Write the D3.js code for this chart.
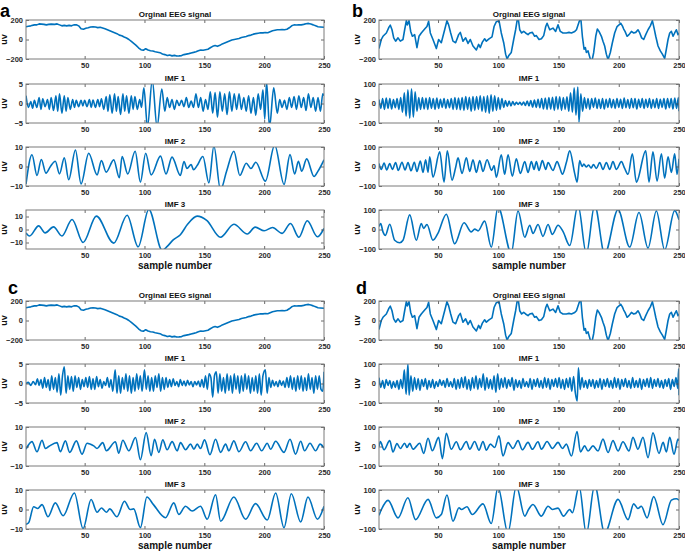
<!DOCTYPE html>
<html><head><meta charset="utf-8">
<script src="https://cdn.jsdelivr.net/npm/d3@7"></script>
<style>
html,body{margin:0;padding:0;background:#fff;}
svg{display:block;font-family:"Liberation Sans",Arial,Helvetica,sans-serif;}
</style></head><body>
<svg id="chart" width="685" height="554"></svg>
<script>
// ---------------- DATA (sample number, uV) ----------------
const sampleDomain = [1, 250];
const xTickValues = [50, 100, 150, 200, 250];
const subplotTitles = ["Orginal EEG signal", "IMF 1", "IMF 2", "IMF 3"];
const panelLetters = ["a", "b", "c", "d"];
const yAxisLabel = "uv";
const xAxisLabel = "sample number";

const yLimitsA = [200, 5, 10, 15];
const yLimitsB = [200, 100, 100, 100];
const yLimitsC = [200, 5, 10, 10];
const yLimitsD = [200, 100, 100, 100];
const yTicksA = [[-200, 0, 200], [-5, 0, 5], [-10, 0, 10], [-10, 0, 10]];
const yTicksB = [[-200, 0, 200], [-100, 0, 100], [-100, 0, 100], [-100, 0, 100]];
const yTicksC = [[-200, 0, 200], [-5, 0, 5], [-10, 0, 10], [-10, 0, 10]];
const yTicksD = [[-200, 0, 200], [-100, 0, 100], [-100, 0, 100], [-100, 0, 100]];

// original EEG signal shown in panels a and c
const eegAC = [[1,130],[3,135],[5,140],[8,150],[10,150],[12,160],[14,158],[16,155],[18,150],[20,155],[22,158],[25,155],[27,160],[29,150],[31,140],[33,145],[35,140],[37,145],[39,140],[41,150],[43,152],[45,140],[47,110],[49,105],[51,115],[53,120],[55,128],[57,130],[59,128],[61,122],[63,125],[65,118],[67,110],[69,100],[71,90],[73,80],[75,70],[77,60],[79,45],[81,38],[83,25],[85,15],[87,0],[89,-20],[91,-40],[93,-60],[95,-85],[97,-105],[99,-110],[101,-95],[103,-108],[105,-115],[107,-118],[109,-125],[111,-130],[113,-135],[115,-148],[117,-155],[119,-165],[121,-160],[123,-168],[125,-163],[127,-170],[129,-168],[131,-165],[133,-155],[135,-150],[137,-145],[139,-138],[141,-132],[143,-125],[145,-115],[147,-108],[149,-110],[151,-105],[153,-100],[155,-85],[157,-70],[159,-62],[161,-70],[163,-60],[165,-45],[167,-35],[169,-25],[171,-15],[173,-5],[175,0],[177,5],[179,10],[181,20],[183,25],[185,30],[187,40],[189,45],[191,55],[193,60],[195,65],[197,70],[199,68],[201,72],[203,70],[205,80],[207,90],[209,95],[211,100],[213,100],[215,102],[217,100],[219,105],[221,120],[223,140],[225,150],[227,148],[229,152],[231,150],[233,155],[235,162],[237,165],[239,158],[241,150],[243,140],[245,130],[247,128],[250,125]];

// original EEG signal shown in panels b and d
const eegBD = [[1,-93],[2.9,0],[4.3,33],[7.1,67],[9.3,127],[10.4,147],[11.8,100],[13.2,17],[14.8,-17],[16.8,17],[18.7,-17],[20.9,0],[22.3,100],[23.7,193],[24.5,150],[25.9,193],[27.3,83],[28.7,33],[30.6,50],[32.5,-83],[34.2,33],[36.1,67],[38.9,107],[40.8,133],[42.2,187],[43.6,67],[45.8,0],[48.6,-93],[50.5,0],[52.7,-33],[55.5,100],[57.4,193],[58.8,150],[60.5,67],[62.4,-17],[64.6,-33],[67.1,50],[68.5,73],[70.7,-17],[72.9,17],[74.9,-40],[76.8,0],[79,-67],[81.8,-107],[83.7,-50],[85.1,-83],[86.8,-27],[88.7,7],[90.1,-17],[92.3,7],[94.8,27],[96.5,133],[98.4,183],[100.6,193],[102.5,67],[104.5,-33],[106.1,-150],[107.3,-200],[108.6,-167],[110.8,-133],[112.8,0],[114.4,100],[115.6,193],[116.4,233],[117.8,100],[119.4,67],[121.1,83],[122.7,67],[124.7,50],[126.1,67],[128.3,73],[130.2,33],[131.6,40],[133.8,0],[135.8,7],[137.7,40],[139.4,133],[140.5,167],[142.7,100],[145.4,117],[147.6,83],[149.6,150],[151.5,83],[153.7,67],[156.5,67],[158.7,73],[160.7,67],[163.5,83],[164.9,100],[167.1,183],[168.5,217],[169.8,33],[171.2,-100],[172.3,-83],[173.1,-133],[174.5,-117],[176.4,-200],[177.8,-217],[179.2,-133],[180.9,33],[182.2,107],[183.6,83],[185.6,33],[186.9,-17],[188.3,-67],[189.7,-150],[191.1,-207],[193,-133],[194.7,-33],[196.6,67],[198.6,133],[200.2,150],[201.6,167],[203,140],[204.1,107],[205.2,83],[206.9,33],[208.5,50],[210.5,83],[212.4,67],[214.1,73],[216,100],[217.4,67],[219,17],[220.7,0],[222.4,50],[224.3,100],[226.2,140],[227.9,193],[229.3,117],[230.7,33],[232.6,-67],[234.5,-117],[236.2,-150],[238.1,-193],[239.5,-100],[240.9,0],[242.3,67],[243.7,83],[245.1,33],[246.4,67],[247.8,100],[249.2,50],[250,67]];

// panel a IMFs
const imf1A = [[1,2],[3,-1],[5,0.5],[6.5,-1.2],[8,0.8],[10,-1],[12,1.5],[13.5,-1.5],[15,1.2],[17,-0.8],[19,1],[20.5,-1.5],[22,1.5],[24,-1.8],[26,2],[27.5,-2],[29,2.5],[31,-2.5],[33,2],[34.5,-2],[36,1.5],[38,-1.5],[40,1],[41.5,-1],[43,0.8],[45,-0.8],[47,0.8],[48.5,-0.6],[50,0.8],[52,-0.8],[54,1],[55.5,-1],[57,0.9],[59,-1],[61,1],[62.5,-0.8],[64,1.2],[66,-1.5],[68,1.8],[69.5,-2],[71,2.2],[73,-2.5],[75,2.5],[76.5,-2],[78,1.8],[80,-2.8],[82,2.5],[83.5,-2],[85,2],[87,-2.5],[89,2],[90.5,-1.5],[92,1.8],[94,-1.5],[96,1],[97.5,-1],[99.5,4],[102.5,-6],[106.5,6],[110.5,-6],[114.5,3.7],[117,-2],[119,1.5],[121,-1],[123,1],[125,-1.5],[127,0.8],[129,-0.5],[131,0.8],[133,-0.8],[135,1.5],[137,-1],[139,0.6],[141,-1],[143,2.5],[145,-1],[147,1.5],[149,-2],[151,1],[153,-1.5],[155,3],[157,-2.5],[159,2.8],[161,-3.5],[163,3],[165,-2],[167,2.5],[169,-2.8],[171,3],[173,-2],[175,2.5],[177,-1.5],[179,2.5],[181,-1.5],[183,1.5],[185,-2],[187,2],[189,-2.5],[191,1.5],[193,-3],[195,2.5],[197,-1.5],[199,3.5],[200.5,-4],[202,5.5],[204.5,-6],[208,4],[211,-2.5],[213,1],[215,-1],[217,0.8],[219,-1.5],[221,1.5],[223,-1],[225,1.8],[227,-1.5],[229,2],[231,-1],[233,1.5],[235,-1.8],[237,2.5],[239,-1],[241,1.5],[243,-2],[245,1.5],[247,-2],[249,2.5],[250,2]];
const imf2A = [[1,-9],[6,6],[10.2,-4.6],[13.8,3.6],[17.7,-3.4],[21.4,0],[25.5,2.7],[29,-3.8],[33,4.4],[36.7,-6.8],[42.3,8.5],[47,-8.9],[53.4,6.8],[60.4,-4.3],[64,3],[68,-2.9],[74.3,3.4],[79,-5.8],[81.3,5.1],[86,-3.8],[92.2,7.8],[96.6,-8],[101,6.8],[105.6,-4.3],[113.4,5.3],[118,-3.8],[123,4.8],[130,-4.6],[133,2.6],[135.5,-1],[139,1],[141,-1.7],[144,0.5],[148.8,5.1],[153.8,-8.4],[158,10.5],[163.5,-12],[168.6,-2.4],[174.7,7.8],[179.7,-4.6],[185,1.7],[189,-1],[193,2.2],[201,-7.5],[208.8,11],[216.6,-9.2],[221.6,6.1],[225.5,-3.8],[228.6,2.7],[231.4,-2.4],[235.5,3.9],[241.7,-5.1],[245,-2.4],[250,3.4]];
const imf3A = [[1,-2.6],[4,-5],[11.6,2.8],[17,-2.6],[24,2],[31,-5],[39.5,7.7],[48.7,-10],[59.8,10.3],[74.3,-10.5],[85.5,11],[94.7,-13.3],[103.6,15.5],[114.8,-16],[119,-13],[124,-8],[130,-4],[136,4],[144,10.3],[152,7],[163.5,-6],[174.7,4],[186,-3.5],[192.5,1.8],[200,-1],[207,1.5],[215,-3],[222,4.6],[229,-6],[236,6.7],[244.5,-5.6],[250,0.8]];

// panel b IMFs
const imf1B = [[1,20],[2.5,-25],[4,25],[5.5,-30],[7,28],[8.5,-25],[10,25],[11.5,-28],[13,20],[14.5,-22],[16,25],[17.5,-30],[19,30],[20.5,-45],[22,55],[23.5,-65],[25,70],[26.5,-75],[28,75],[29.5,-70],[31,60],[32.5,-40],[34,30],[35.5,-30],[37,30],[38.5,-28],[40,28],[41.5,-30],[43,30],[44.5,-25],[46,25],[47.5,-30],[49,28],[50.5,-25],[52,22],[53.5,-20],[55,25],[56.5,-25],[58,20],[59.5,-22],[61,25],[62.5,-30],[64,30],[65.5,-30],[67,28],[68.5,-32],[70,30],[71.5,-35],[73,35],[74.5,-30],[76,32],[77.5,-40],[79,35],[80.5,-35],[82,35],[83.5,-30],[85,40],[86.5,-40],[88,35],[89.5,-45],[91,40],[92.5,-50],[94,45],[95.5,-40],[97,40],[98.5,-35],[100,30],[101.5,-30],[103,25],[104.5,-20],[106,15],[107.5,-15],[109,12],[110.5,-12],[112,10],[113.5,-8],[115,6],[116.5,-5],[118,6],[119.5,-8],[121,8],[122.5,-10],[124,12],[125.5,-12],[127,15],[128.5,-18],[130,18],[131.5,-20],[133,22],[134.5,-22],[136,25],[137.5,-28],[139,28],[140.5,-30],[142,30],[143.5,-28],[145,32],[146.5,-35],[148,35],[149.5,-30],[151,35],[152.5,-35],[154,30],[155.5,-30],[157,35],[158.5,-40],[160,55],[161.5,-45],[163,80],[164.5,-60],[166,85],[167,-95],[168.5,50],[170,-40],[171.5,30],[173,-25],[174.5,25],[176,-30],[177.5,25],[179,-20],[180.5,28],[182,-25],[183.5,22],[185,-25],[186.5,25],[188,-28],[189.5,22],[191,-20],[192.5,25],[194,-22],[195.5,20],[197,-25],[198.5,25],[200,-20],[201.5,22],[203,-25],[204.5,28],[206,-22],[207.5,20],[209,-25],[210.5,25],[212,-22],[213.5,25],[215,-28],[216.5,22],[218,-20],[219.5,25],[221,-25],[222.5,22],[224,-20],[225.5,25],[227,-25],[228.5,20],[230,-22],[231.5,25],[233,-25],[234.5,22],[236,-20],[237.5,25],[239,-28],[240.5,25],[242,-22],[243.5,25],[245,-28],[246.5,28],[248,-25],[249.5,30],[250,-40]];
const imf2B = [[1,15],[2.9,-15],[5.2,18],[7.4,-18],[9.9,15],[12.1,-15],[14.8,20],[17,-20],[20.1,22],[22.6,-18],[25.1,20],[27.6,-22],[30.3,22],[32.5,-25],[35.3,28],[37.5,-30],[39.7,35],[41.7,-30],[43.1,50],[45.8,-55],[51.4,75],[55,-80],[57.7,80],[61.6,-70],[64.6,-5],[66.6,45],[69.9,-35],[73.5,45],[76.3,-25],[79,35],[81.8,-30],[84.6,30],[87.3,-25],[90.7,35],[94.5,-20],[96.5,5],[98.4,-55],[102.5,60],[105.3,-40],[108.1,60],[111.7,-50],[115,40],[118.3,-35],[122,25],[124.7,-30],[127.5,25],[129.7,-15],[131.6,25],[133.8,-20],[136.6,30],[139.4,-15],[141.3,20],[145.4,-20],[148.8,25],[151,-5],[153.2,-40],[156.5,20],[159.3,80],[163.4,-35],[165.4,-80],[167.6,30],[169.5,0],[171,12],[173,-2],[175,8],[177,-8],[179,10],[181.4,-10],[184.2,20],[186.9,-15],[189.7,20],[192.5,-15],[195.2,25],[198,-15],[202.2,25],[204.9,-10],[207.7,-40],[211.3,65],[214.6,-80],[222.4,80],[225.1,-80],[228.4,75],[231.8,-75],[235.4,65],[238.1,-60],[240.9,50],[243.7,-30],[246.4,65],[248.4,-40],[250,40]];
const imf3B = [[1,15],[2.4,30],[4.3,-12],[6.3,-30],[9.9,27],[14,-55],[18.2,-68],[20.9,-55],[26.5,75],[32,-55],[36.1,30],[38.1,5],[40.8,26],[45.8,-55],[49.9,-20],[56.9,78],[63.8,-73],[71.6,35],[77.6,-12],[80.4,2],[83.2,-7],[88.7,43],[94.2,-90],[99.8,115],[110.8,-120],[116.4,95],[122,-40],[126.1,22],[128.8,-20],[133,26],[137.1,-35],[141.3,26],[144.9,-25],[149.6,22],[153.7,-10],[159.3,-82],[166.2,125],[173.1,-125],[180,125],[188.3,-125],[199.4,102],[209.1,-90],[216.8,87],[224.3,-95],[231.2,95],[238.1,-105],[246.4,97],[250,50]];

// panel c IMFs
const imf1C = [[1,0],[3,0.3],[5,-0.5],[7,0.5],[9,-0.3],[10.5,1.2],[12,-0.5],[13.5,1],[15,-1.2],[16.5,1.5],[18,-1],[19.5,1],[21,-1.8],[22.5,2],[24,-1.5],[25.5,1.5],[27,-2.2],[28.5,2.5],[30,-3],[31.5,2],[33,4.3],[34.5,-2.5],[36,2],[37.5,-1.5],[39,1.8],[40.5,-2],[42,2],[43.5,-1],[45,1.5],[46.5,-1.5],[48,1],[49.5,-0.8],[51,1.5],[52.5,-1],[54,1.8],[55.5,-1.5],[57,1.2],[58.5,-1.5],[60,1.8],[61.5,-0.8],[63,1],[64.5,-1.2],[66,0.5],[67.5,-0.5],[69,1.5],[70.5,-1],[72,1],[73.5,-2],[75.5,3.5],[77,-2.5],[78.5,2],[80,-2.5],[81.5,1.5],[83,-1.5],[84.5,2.5],[86,-2],[87.5,2],[89,-2.5],[90.5,1.5],[92,-2],[93.5,2.5],[95,-1.5],[96.5,2],[98,-2],[100,3.5],[101.5,-1.5],[103,2],[104.5,-2],[106,1.5],[107.5,-2],[109,2],[110.5,-1],[112,2.5],[113.5,-2],[115,1.5],[116.5,-1.5],[118,1.5],[119.5,-1],[121,1],[122.5,-0.8],[124,1.2],[125.5,-0.5],[127,0.5],[128.5,-0.8],[130,1],[131.5,-0.5],[133,0.6],[134.5,-0.6],[136,0.8],[137.5,-0.4],[139,0.5],[140.5,-0.8],[142,0.5],[143.5,-0.4],[145,0.6],[146.5,-0.8],[148,1],[149.5,-1],[151,2],[152.5,-1.5],[154,2.5],[155.5,1.5],[157,-3.5],[158.5,2],[160,3],[161.5,-2.5],[163,2.5],[164.5,-2],[166,1.5],[167.5,-2.5],[169,2.5],[170.5,-1.8],[172,2],[173.5,-2.5],[175,2.5],[176.5,-1.5],[178,2],[179.5,-2.5],[181,2],[182.5,-2],[184,2.5],[185.5,-1.5],[187,2],[188.5,-2.5],[190,1.5],[191.5,-2],[193,2],[194.5,-2.5],[196,2.5],[197.5,-3],[199,2],[201,3.5],[202.5,-2.5],[204,1.5],[205.5,-1],[207,0.8],[208.5,-0.6],[210,0.5],[211.5,-0.8],[213,0.8],[214.5,-0.5],[216,0.6],[217.5,-1],[219,1.5],[220.5,-1],[222,2],[223.5,-1.5],[225,1.5],[226.5,-2],[228,2],[229.5,-1.5],[231,2],[232.5,-2],[234,1.5],[235.5,-1.8],[237,2.5],[238.5,-1.5],[240,1.5],[241.5,-2.5],[243,2],[244.5,-1.5],[246,2],[247.5,-1.5],[249,-2],[250,3]];
const imf2C = [[1,-1.4],[6,2.5],[10.2,-2.7],[14.4,3.2],[17.2,-1],[20,0],[26.9,2],[29.7,-2.7],[33.9,2.9],[37.5,-3],[43.1,2.9],[47.8,-3.9],[52,1.7],[57.6,0.3],[60.4,-1],[65.1,2],[68.2,-2.2],[75.7,2.4],[78.5,-3.4],[81.9,3.2],[86.9,-2.2],[92.5,4.6],[96.6,-6.8],[101.4,7.1],[105.6,-4.7],[108.4,3.7],[112,-3],[115.3,3.4],[118.9,-1.7],[123.1,2.5],[127.3,-2.2],[130.1,2],[134.3,-1.7],[138.5,1.2],[141.3,-1.4],[144.1,1.2],[146.8,-1],[150.2,3.4],[154.7,-4.2],[159.4,3.7],[163.6,-3],[167.8,1.2],[170.5,-2.2],[174.7,2.9],[178.9,-2.7],[184.5,2.4],[188.7,-2.2],[193.7,1.7],[197.9,-2.2],[202.6,1.7],[205.4,-1.4],[209.6,2.7],[216.6,-3],[221.6,3.7],[226.3,-3.9],[230.5,2.7],[233.8,-2.2],[238.3,1.7],[243,-2.2],[246.7,1.2],[250,-0.8]];
const imf3C = [[1,-7.6],[3.2,-6.8],[7.4,1.4],[10.8,0.5],[14.4,2.5],[19.4,-3.7],[25.5,3.4],[32,-3.2],[41.4,8.5],[48.7,-9.8],[55.4,5.1],[60.4,-1.4],[64,0.8],[68.2,-1.4],[71,0.3],[77,-3.7],[83.3,4.2],[88,0],[91,0.3],[96.6,-9.3],[102,6.4],[107.5,2.5],[117.6,-4.2],[124.5,3.4],[128.7,-2.5],[134.3,1.7],[139.8,-0.8],[146.8,1.7],[152.4,-5],[159.4,7.6],[163.6,-6],[174.7,6.4],[184.5,-5],[192.8,3],[202.6,-5.4],[209.6,8.5],[216.6,-9.3],[222.7,8.1],[230.5,-6.4],[236.6,6.4],[244.5,-5],[250,1.7]];

// panel d IMFs
const imf1D = [[1,30],[2.5,-20],[4,15],[5.5,-25],[7,20],[8.5,-10],[10,15],[11.5,-25],[13,10],[14.5,-20],[16,15],[17.5,-30],[19,20],[20.5,-25],[22,70],[23.5,-55],[25,100],[26,-60],[27.5,40],[29,-40],[30.5,30],[32,-30],[33.5,25],[35,-35],[36.5,20],[38,-15],[39.5,25],[41,-30],[42.5,15],[44,-20],[45.5,20],[47,-25],[48.5,10],[50,-15],[51.5,20],[53,-10],[54.5,15],[56,-20],[57.5,25],[59,-15],[60.5,10],[62,-20],[63.5,25],[65,-30],[66.5,20],[68,-25],[69.5,30],[71,-20],[72.5,35],[74,-30],[75.5,20],[77,-35],[78.5,30],[80,-25],[81.5,40],[83,-30],[84.5,25],[86,-20],[87.5,50],[89,-35],[90.5,30],[92,-25],[93.5,20],[95,-30],[96.5,40],[98,-45],[99.5,50],[101,-30],[102.5,25],[104,-20],[105.5,30],[107,-25],[108.5,20],[110,-15],[111.5,30],[113,-35],[114.5,20],[116,-20],[117.5,15],[119,-25],[120.5,25],[122,-15],[123.5,10],[125,-20],[126.5,25],[128,-30],[129.5,20],[131,-15],[132.5,25],[134,-20],[135.5,15],[137,-25],[138.5,30],[140,-20],[141.5,25],[143,-30],[144.5,20],[146,-15],[147.5,25],[149,-20],[150.5,30],[152,-25],[153.5,20],[155,-30],[156.5,25],[158,-20],[159.5,30],[161,-40],[162.5,35],[164,-50],[165.5,-90],[166.5,80],[168,-30],[169.5,30],[171,-20],[172.5,15],[174,-25],[175.5,20],[177,-15],[178.5,20],[180,-25],[181.5,15],[183,-20],[184.5,25],[186,-30],[187.5,20],[189,-15],[190.5,25],[192,-20],[193.5,15],[195,-25],[196.5,30],[198,-20],[199.5,25],[201,-30],[202.5,20],[204,-15],[205.5,25],[207,-20],[208.5,15],[210,-25],[211.5,30],[213,-20],[214.5,15],[216,-20],[217.5,25],[219,-30],[220.5,20],[222,-15],[223.5,25],[225,-20],[226.5,30],[228,-25],[229.5,20],[231,-15],[232.5,25],[234,-20],[235.5,15],[237,-25],[238.5,20],[240,-15],[241.5,25],[243,-30],[244.5,20],[246,-15],[247.5,30],[249,-25],[249.7,75],[250,-60]];
const imf2D = [[1,0],[2.1,25],[5.2,-17],[9.9,30],[12.6,-28],[15.9,15],[18.7,-10],[22.3,17],[24.2,-5],[26.5,16],[29.2,-14],[34.8,17],[38.1,-35],[41.7,42],[45.3,-22],[50.5,47],[53.6,-62],[56.9,68],[61,-14],[65.2,24],[68.5,-17],[73.5,26],[76.3,-14],[80.4,26],[84,-19],[87.3,26],[90.1,-19],[93.4,12],[97,-5],[100.6,55],[103.9,-49],[108.1,20],[112.2,-10],[116.4,30],[120,-17],[124.7,21],[128.3,-14],[133,24],[135.8,-14],[140.5,26],[144.9,-10],[149.6,21],[153.2,-10],[156.5,12],[160.7,-49],[165.4,77],[168.2,-28],[171.7,3],[174.5,-23],[178.6,3],[182.8,-23],[186.9,38],[191.1,-31],[195.2,30],[199.4,-23],[203.5,24],[208.5,-23],[211.8,47],[215.9,-14],[220.1,47],[224.3,-57],[228.4,70],[233.4,-35],[236.8,21],[239.5,-28],[242.3,47],[245.9,-40],[249.2,38],[250,30]];
const imf3D = [[1,-30],[3,0],[8.5,47],[16.8,-43],[25,60],[31.4,-52],[41.7,52],[48.6,-43],[52.7,-26],[57.4,74],[62.4,-60],[67.4,9],[69.4,0],[74,14],[78.4,-26],[87.3,29],[94.2,-72],[99.8,115],[108,-120],[115,120],[122,-34],[125.1,0],[128.8,26],[135.8,-34],[141.3,17],[144.9,0],[149.6,7],[154.1,-34],[159.3,0],[161.5,-17],[167.1,120],[173.1,-125],[180,125],[188.3,-120],[199.4,52],[207.7,-52],[212.4,29],[215.9,5],[218.7,17],[223.5,-43],[229,66],[236.7,-78],[243.7,48],[247.8,55],[250,48]];

// ---------------- LAYOUT ----------------
const lineColor = "#0072BD";
const colX = [26, 379];
const colW = [298, 300];
const rowTops = [[20, 84, 147, 210], [301, 364, 427, 490]];
const plotH = 39;

const panels = [
  {letter: panelLetters[0], col: 0, row: 0, series: [eegAC, imf1A, imf2A, imf3A], lims: yLimitsA, ticks: yTicksA, lx: 0,   ly: 16.5},
  {letter: panelLetters[1], col: 1, row: 0, series: [eegBD, imf1B, imf2B, imf3B], lims: yLimitsB, ticks: yTicksB, lx: 352, ly: 16.5},
  {letter: panelLetters[2], col: 0, row: 1, series: [eegAC, imf1C, imf2C, imf3C], lims: yLimitsC, ticks: yTicksC, lx: 8,   ly: 294},
  {letter: panelLetters[3], col: 1, row: 1, series: [eegBD, imf1D, imf2D, imf3D], lims: yLimitsD, ticks: yTicksD, lx: 356, ly: 294}
];

const svg = d3.select("#chart");
svg.append("rect").attr("width", 685).attr("height", 554).attr("fill", "#fff");

let clipId = 0;
panels.forEach(p => {
  const x0 = colX[p.col], w = colW[p.col];
  svg.append("text").attr("x", p.lx).attr("y", p.ly)
    .attr("font-size", 18).attr("font-weight", "bold").attr("fill", "#000")
    .text(p.letter);

  p.series.forEach((data, i) => {
    const y0 = rowTops[p.row][i];
    const g = svg.append("g").attr("transform", `translate(${x0},${y0})`);
    const x = d3.scaleLinear().domain(sampleDomain).range([0, w]);
    const y = d3.scaleLinear().domain([-p.lims[i], p.lims[i]]).range([plotH, 0]);

    const id = "clip" + (clipId++);
    g.append("clipPath").attr("id", id).append("rect")
      .attr("x", 0).attr("y", 0).attr("width", w).attr("height", plotH);

    const line = d3.line()
      .x(d => x(d[0])).y(d => y(d[1]))
      .curve(i === 0 ? d3.curveLinear : d3.curveMonotoneX);

    g.append("path").datum(data)
      .attr("clip-path", `url(#${id})`)
      .attr("fill", "none").attr("stroke", lineColor)
      .attr("stroke-width", 1.6).attr("stroke-linejoin", "round")
      .attr("d", line);

    const styleAxis = sel => {
      sel.select(".domain").remove();
      sel.selectAll(".tick line").attr("stroke", "#444").attr("stroke-width", 0.8);
      sel.selectAll(".tick text").attr("fill", "#2a2a2a").attr("font-size", 7.5)
        .attr("font-weight", "bold")
        .attr("font-family", "'Liberation Sans', Arial, sans-serif");
    };
    g.append("g").attr("transform", `translate(0,${plotH})`)
      .call(d3.axisBottom(x).tickValues(xTickValues).tickSize(-3).tickPadding(4))
      .call(styleAxis);
    g.append("g")
      .call(d3.axisTop(x).tickValues(xTickValues).tickSize(-3).tickFormat(""))
      .call(styleAxis);
    g.append("g")
      .call(d3.axisLeft(y).tickValues(p.ticks[i]).tickSize(-3).tickPadding(3))
      .call(styleAxis);
    g.append("g").attr("transform", `translate(${w},0)`)
      .call(d3.axisRight(y).tickValues(p.ticks[i]).tickSize(-3).tickFormat(""))
      .call(styleAxis);

    g.append("rect").attr("x", 0).attr("y", 0).attr("width", w).attr("height", plotH)
      .attr("fill", "none").attr("stroke", "#7a7a7a").attr("stroke-width", 1);

    g.append("text").attr("x", w / 2).attr("y", -3.5)
      .attr("text-anchor", "middle").attr("font-size", 8).attr("font-weight", "bold")
      .attr("fill", "#111").text(subplotTitles[i]);

    g.append("text")
      .attr("transform", `translate(-22.5,${plotH / 2}) rotate(-90)`)
      .attr("dy", "0.35em").attr("text-anchor", "middle")
      .attr("font-size", 9).attr("font-weight", "bold").attr("fill", "#111")
      .text(yAxisLabel);

    if (i === 3) {
      g.append("text").attr("x", w / 2).attr("y", plotH + 20)
        .attr("text-anchor", "middle").attr("font-size", 10).attr("font-weight", "bold")
        .attr("fill", "#111").text(xAxisLabel);
    }
  });
});
</script>
</body></html>
